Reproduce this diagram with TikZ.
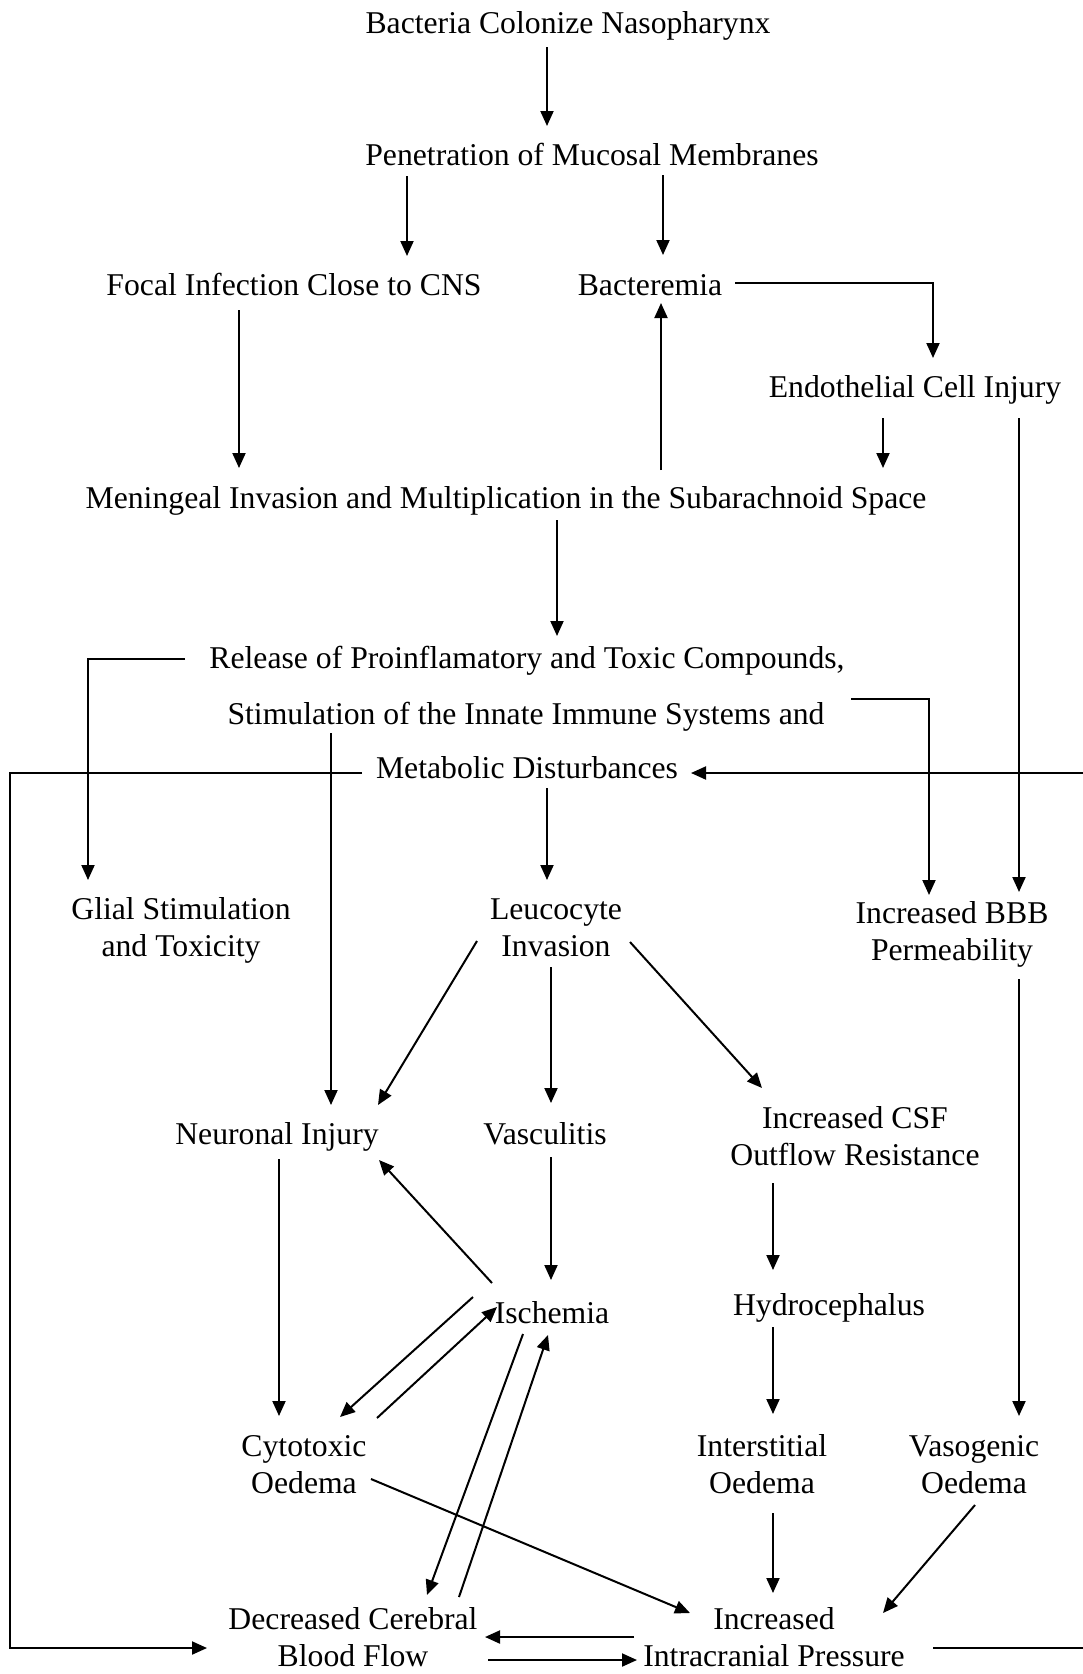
\documentclass[tikz,border=0pt]{standalone}
\usepackage{fontspec}
\setmainfont{Liberation Serif}
\usetikzlibrary{arrows.meta}
\begin{document}
\begin{tikzpicture}[x=1pt,y=-1pt,
  lab/.style={inner sep=0pt, align=center, font=\fontsize{31.7}{37}\selectfont},
  arr/.style={line width=2pt, -{Triangle[length=15pt,width=13pt]}}]
\useasboundingbox (0,0) rectangle (1083,1674);
\clip (0,0) rectangle (1083,1674);
\node[lab] (bac) at (568,26) {Bacteria Colonize Nasopharynx\strut};
\node[lab] (pen) at (592,158) {Penetration of Mucosal Membranes\strut};
\node[lab] (foc) at (294,288) {Focal Infection Close to CNS\strut};
\node[lab] (bacm) at (650,288) {Bacteremia\strut};
\node[lab] (endo) at (915,390) {Endothelial Cell Injury\strut};
\node[lab] (men) at (506,501) {Meningeal Invasion and Multiplication in the Subarachnoid Space\strut};
\node[lab] (rel) at (527,661) {Release of Proinflamatory and Toxic Compounds,\strut};
\node[lab] (sti) at (526,717) {Stimulation of the Innate Immune Systems and\strut};
\node[lab] (met) at (527,771) {Metabolic Disturbances\strut};
\node[lab] (gli) at (181,931) {Glial Stimulation\strut\\and Toxicity\strut};
\node[lab] (leu) at (556,931) {Leucocyte\strut\\Invasion\strut};
\node[lab] (bbb) at (952,935) {Increased BBB\strut\\Permeability\strut};
\node[lab] (neu) at (277,1137) {Neuronal Injury\strut};
\node[lab] (vas) at (545,1137) {Vasculitis\strut};
\node[lab] (csf) at (855,1140) {Increased CSF\strut\\Outflow Resistance\strut};
\node[lab] (isc) at (552,1316) {Ischemia\strut};
\node[lab] (hyd) at (829,1308) {Hydrocephalus\strut};
\node[lab] (cyt) at (304,1468) {Cytotoxic\strut\\Oedema\strut};
\node[lab] (int) at (762,1468) {Interstitial\strut\\Oedema\strut};
\node[lab] (vsg) at (974,1468) {Vasogenic\strut\\Oedema\strut};
\node[lab] (dcb) at (353,1635.5) {Decreased Cerebral\strut\\Blood Flow};
\node[lab] (iip) at (774,1635.5) {Increased\strut\\Intracranial Pressure};
\coordinate (Lx) at (10,1200);
\coordinate (Rx) at (1095,1200);
% connectors
\draw[arr] ([shift={(-21,21)}]bac.center) -- ([shift={(-45,-32)}]pen.center);
\draw[arr] ([shift={(-185,18)}]pen.center) -- ([shift={(113,-32)}]foc.center);
\draw[arr] ([shift={(71,17)}]pen.center) -- ([shift={(13,-33)}]bacm.center);
\draw[arr] ([shift={(85,-5)}]bacm.center) -| ([shift={(18,-32)}]endo.center);
\draw[arr] ([shift={(-55,22)}]foc.center) -- ([shift={(-267,-33)}]men.center);
\draw[arr] ([shift={(155,-31)}]men.center) -- ([shift={(11,15)}]bacm.center);
\draw[arr] ([shift={(-32,28)}]endo.center) -- ([shift={(377,-33)}]men.center);
\draw[arr] ([shift={(104,28)}]endo.center) -- ([shift={(67,-43)}]bbb.center);
\draw[arr] ([shift={(51,19)}]men.center) -- ([shift={(30,-25)}]rel.center);
\draw[arr] ([shift={(-342,-2)}]rel.center) -| ([shift={(-93,-51)}]gli.center);
\draw[arr] ([shift={(325,-18)}]sti.center) -| ([shift={(-23,-40)}]bbb.center);
\draw[arr] ([shift={(-195,16)}]sti.center) -- ([shift={(54,-32)}]neu.center);
\draw[arr] ([shift={(-165,2)}]met.center) -| (Lx) |- ([shift={(-146,12.5)}]dcb.center);
\draw[arr] ([shift={(159,12.5)}]iip.center) -| (Rx) |- ([shift={(164,2)}]met.center);
\draw[arr] ([shift={(20,17)}]met.center) -- ([shift={(-9,-51)}]leu.center);
\draw[arr] ([shift={(-79,10)}]leu.center) -- ([shift={(101,-32)}]neu.center);
\draw[arr] ([shift={(-5,36)}]leu.center) -- ([shift={(6,-34)}]vas.center);
\draw[arr] ([shift={(74,11)}]leu.center) -- ([shift={(-93,-52)}]csf.center);
\draw[arr] ([shift={(67,44)}]bbb.center) -- ([shift={(45,-52)}]vsg.center);
\draw[arr] ([shift={(2,22)}]neu.center) -- ([shift={(-25,-52)}]cyt.center);
\draw[arr] ([shift={(6,20)}]vas.center) -- ([shift={(-1,-36)}]isc.center);
\draw[arr] ([shift={(-82,43)}]csf.center) -- ([shift={(-56,-38)}]hyd.center);
\draw[arr] ([shift={(-60,-33)}]isc.center) -- ([shift={(102,23)}]neu.center);
\draw[arr] ([shift={(-56,19)}]hyd.center) -- ([shift={(11,-54)}]int.center);
\draw[arr] ([shift={(-79,-19)}]isc.center) -- ([shift={(36,-51)}]cyt.center);
\draw[arr] ([shift={(73,-50)}]cyt.center) -- ([shift={(-55,-9)}]isc.center);
\draw[arr] ([shift={(-29,18)}]isc.center) -- ([shift={(74,-40.5)}]dcb.center);
\draw[arr] ([shift={(106,-38.5)}]dcb.center) -- ([shift={(-4,19)}]isc.center);
\draw[arr] ([shift={(67,11)}]cyt.center) -- ([shift={(-84,-22.5)}]iip.center);
\draw[arr] ([shift={(11,45)}]int.center) -- ([shift={(-1,-42.5)}]iip.center);
\draw[arr] ([shift={(1,37)}]vsg.center) -- ([shift={(109,-22.5)}]iip.center);
\draw[arr] ([shift={(-140,1.5)}]iip.center) -- ([shift={(132,1.5)}]dcb.center);
\draw[arr] ([shift={(135,24.5)}]dcb.center) -- ([shift={(-137,24.5)}]iip.center);
\end{tikzpicture}
\end{document}
